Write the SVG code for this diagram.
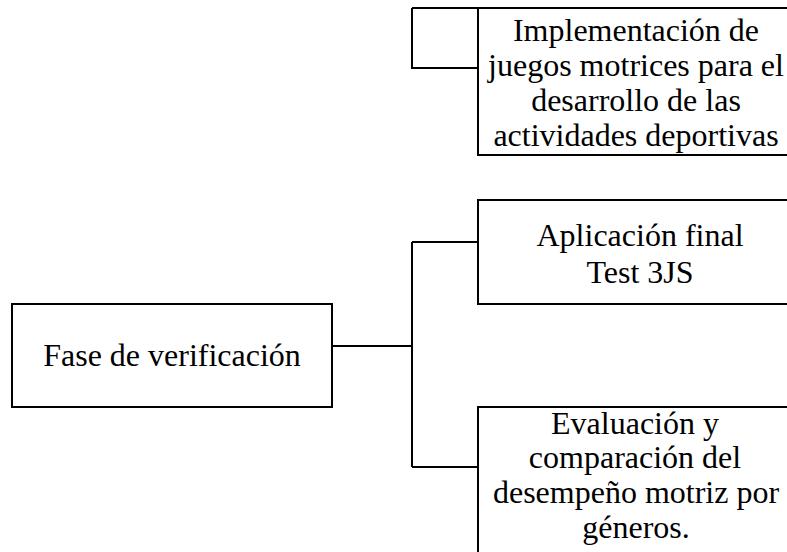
<svg xmlns="http://www.w3.org/2000/svg" width="787" height="552" viewBox="0 0 787 552">
<style>
.box{fill:#fff;stroke:#000;stroke-width:2}
.con{fill:none;stroke:#000;stroke-width:2}
text{font-family:"Liberation Serif","Times New Roman",serif;font-size:32px;fill:#000;text-anchor:middle}
</style>
<rect width="787" height="552" fill="#fff"/>
<g id="connectors">
<path class="con" d="M412,8 H478 M412,8 V68 H478"/>
<path class="con" d="M332,346 H412 M412,242 V467 M412,242 H478 M412,467 H478"/>
</g>
<g id="n-implementacion">
<rect class="box" x="478" y="8" width="318" height="147"/>
<text x="636" y="41">Implementación de</text>
<text x="636" y="76">juegos motrices para el</text>
<text x="636" y="111">desarrollo de las</text>
<text x="636" y="146">actividades deportivas</text>
</g>
<g id="n-aplicacion">
<rect class="box" x="478" y="200" width="318" height="104"/>
<text x="640" y="246">Aplicación final</text>
<text x="640" y="283">Test 3JS</text>
</g>
<g id="n-fase">
<rect class="box" x="12" y="304" width="320" height="103"/>
<text x="172" y="366">Fase de verificación</text>
</g>
<g id="n-evaluacion">
<rect class="box" x="478" y="407" width="318" height="160"/>
<text x="635" y="434">Evaluación y</text>
<text x="635" y="468">comparación del</text>
<text x="636" y="503">desempeño motriz por</text>
<text x="636" y="538">géneros.</text>
</g>
</svg>
